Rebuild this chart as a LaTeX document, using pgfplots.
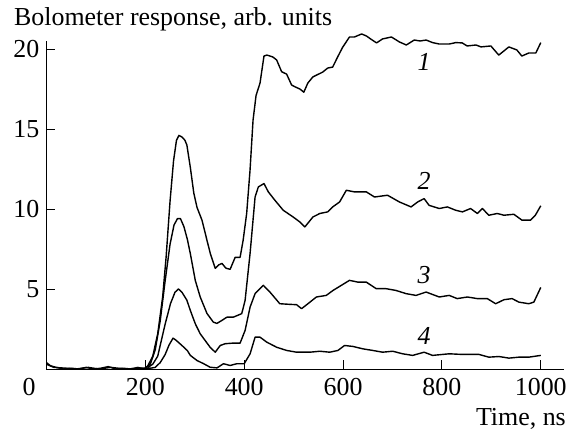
\documentclass[border=0pt]{standalone}
\usepackage{pgfplots}
\pgfplotsset{compat=1.18}
\usepackage{fontspec}
\setmainfont{Liberation Serif}
\newcommand{\bigf}{\fontsize{26}{31}\selectfont}
\begin{document}
\begin{tikzpicture}
\useasboundingbox (-46.5bp,-65bp) rectangle (525.5bp,369bp);
\begin{axis}[
  at={(0,0)}, anchor=origin,
  scale only axis,
  width=517.5bp, height=328bp,
  xmin=0, xmax=1047, ymin=0, ymax=20.5,
  axis x line*=bottom, axis y line*=left,
  axis line style={-, line width=0.9bp},
  clip=false,
  tick align=inside,
  major tick length=9bp,
  every tick/.style={black, line width=0.9bp},
  xtick={200,400,600,800,1000},
  ytick={5,10,15,20},
  extra x ticks={0},
  extra x tick style={major tick length=0pt, xticklabel style={xshift=-17.5bp}},
  /pgf/number format/assume math mode=true,
  /pgf/number format/set thousands separator={},
  every tick label/.append style={font=\bigf},
  xticklabel style={anchor=north, inner sep=0pt, yshift=-9bp},
  yticklabel style={anchor=east, inner sep=0pt, xshift=-7bp},
  no markers,
  cycle list={{black}},
  every axis plot post/.append style={black, mark=none, line width=1.4bp, line join=round},
]
\addplot coordinates {(0,0.4)(8,0.2)(20,0.1)(35,0.0)(50,0.05)(65,0.0)(80,0.1)(95,0.0)(110,0.05)(125,0.15)(140,0.0)(155,0.05)(170,0.0)(185,0.1)(198,0.0)(205,0.2)(215,0.8)(225,2.2)(235,4.5)(242,7)(250,10.5)(257,13)(263,14.3)(268,14.6)(274,14.5)(280,14.3)(284,14.0)(291,12.6)(298,11.0)(304.5,10.1)(314.6,9.3)(324.7,8.04)(331.3,7.23)(341.4,6.29)(348,6.5)(355,6.6)(363,6.3)(371.5,6.23)(381.7,6.98)(391.7,6.98)(397.8,8.04)(405,9.73)(411.8,12.43)(417.9,15.56)(424,17.1)(432,17.87)(440,19.56)(446,19.62)(458,19.5)(465.7,19.31)(475.7,18.58)(485.8,18.43)(495.9,17.75)(502.5,17.64)(512.6,17.5)(520.6,17.3)(528.7,17.87)(538.8,18.25)(558.9,18.56)(569,18.81)(579,18.87)(589,19.5)(599,20.1)(613,20.75)(623,20.75)(637.5,20.94)(647.5,20.81)(657,20.6)(667.7,20.38)(680,20.63)(697.9,20.75)(714,20.44)(728,20.25)(744,20.56)(756,20.5)(768,20.56)(781,20.4)(794.6,20.31)(814.7,20.31)(828,20.4)(841,20.38)(851,20.19)(869,20.25)(879,20.13)(899,20.19)(915,19.62)(935.5,20.13)(951.6,19.94)(961.7,19.56)(975.8,19.75)(990,19.75)(1000,20.4)};
\addplot coordinates {(200,0.05)(210,0.3)(220,1.2)(230,3.0)(240,5.5)(250,7.8)(258,9.0)(265,9.4)(271,9.4)(278,8.9)(285,8.1)(291,7.21)(301,5.54)(311,4.5)(324.7,3.47)(337.5,2.93)(344.8,2.85)(355,3.04)(365,3.24)(378,3.24)(395,3.46)(401.8,4.29)(411.9,7.23)(422,10.75)(428.6,11.38)(440,11.59)(448.8,11.07)(462,10.55)(479,9.92)(499,9.5)(512.6,9.19)(522.7,8.88)(539,9.5)(553,9.72)(569,9.82)(579,10.13)(593,10.44)(606.6,11.17)(623,11.07)(647,11.07)(663.6,10.75)(690,10.86)(714,10.44)(737.6,10.13)(751,10.44)(764,10.65)(774,10.23)(794.6,10.03)(811,10.13)(828,9.92)(841.5,9.82)(858,10.03)(871.7,9.72)(881.8,10.03)(895,9.61)(912,9.72)(925.5,9.61)(945.6,9.67)(962,9.3)(979,9.3)(989,9.61)(1000,10.2)};
\addplot coordinates {(205,0.1)(215,0.3)(225,0.8)(231,1.6)(240,2.8)(251,4.1)(260,4.8)(267,5.0)(274,4.8)(284,4.3)(291,3.66)(301,2.83)(311,2.2)(321,1.78)(331,1.36)(341.4,1.05)(351.5,1.47)(361.6,1.58)(378,1.62)(391.7,1.62)(401.8,2.41)(411.9,3.87)(422,4.71)(438.7,5.23)(452,4.81)(472,4.08)(492.4,4.04)(506,4.02)(516,3.77)(529,4.08)(546,4.5)(566,4.6)(579.7,4.91)(596.6,5.23)(613,5.54)(630,5.43)(647,5.43)(667,5.02)(687,5.02)(707,4.91)(727.5,4.71)(747.6,4.6)(768,4.81)(794.6,4.5)(814.7,4.6)(831,4.4)(851.5,4.5)(871.7,4.4)(891.8,4.4)(908.7,4.08)(925.5,4.33)(942,4.4)(955.7,4.18)(975.8,4.08)(986,4.18)(1000,5.1)};
\addplot coordinates {(0,0.3)(15,0.1)(40,0.05)(60,0.0)(85,0.1)(105,0.0)(130,0.1)(160,0.0)(190,0.05)(210,0.05)(220,0.1)(230,0.4)(240,0.9)(248,1.5)(256,1.93)(262,1.8)(274,1.47)(285,1.15)(291,0.85)(304.5,0.53)(318,0.33)(331,0.11)(345,0.07)(358,0.33)(371.5,0.22)(385,0.33)(400,0.33)(411.9,0.95)(422,1.99)(432,1.99)(445.5,1.68)(465.6,1.36)(485.8,1.16)(506,1.05)(532.7,1.05)(553,1.11)(573,1.05)(589.7,1.16)(603,1.47)(620,1.41)(640,1.26)(660,1.16)(680,1.05)(700.5,1.11)(720.6,0.95)(740.8,0.85)(764,1.05)(781,0.85)(814.7,0.95)(841.5,0.91)(875,0.91)(895,0.74)(915.5,0.78)(935.5,0.68)(955.7,0.74)(975.8,0.74)(1000,0.85)};
\node[font=\bigf\itshape] at (axis cs:764,19.19) {1};
\node[font=\bigf\itshape] at (axis cs:764,11.75) {2};
\node[font=\bigf\itshape] at (axis cs:764,5.9) {3};
\node[font=\bigf\itshape] at (axis cs:764,2.06) {4};
\end{axis}
\node[anchor=base west, inner sep=0pt, font=\bigf] at (-32.5bp,343.3bp) {Bolometer response, arb. units};
\node[anchor=base east, inner sep=0pt, font=\bigf] at (519.5bp,-56bp) {Time, ns};
\end{tikzpicture}
\end{document}
